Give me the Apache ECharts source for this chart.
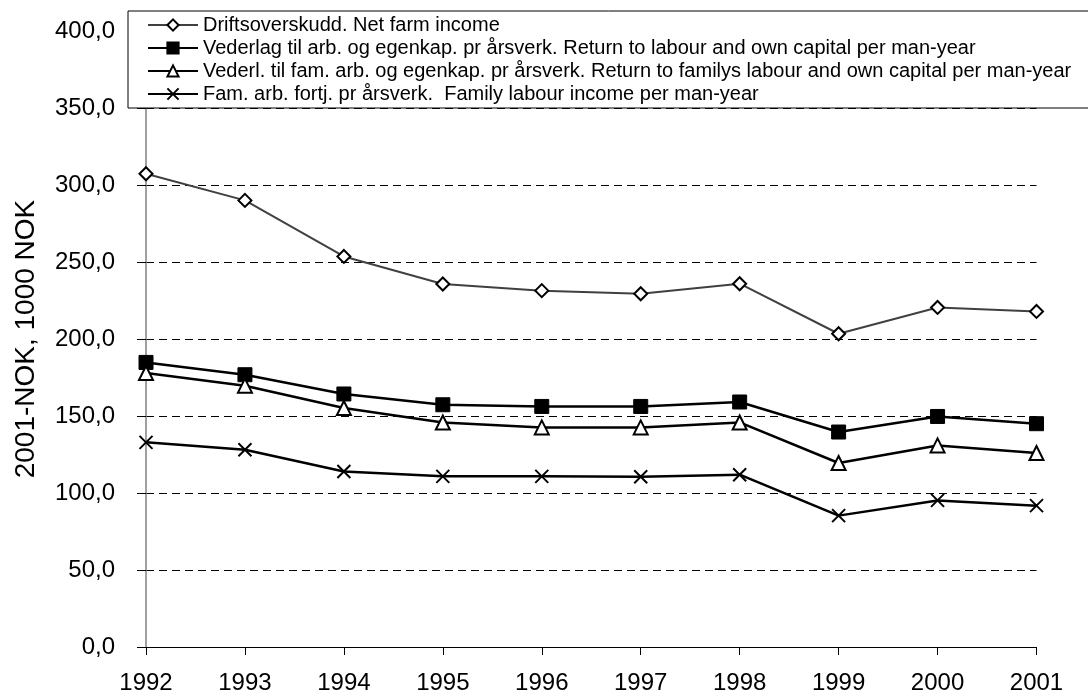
<!DOCTYPE html>
<html>
<head>
<meta charset="utf-8">
<script src="https://cdn.jsdelivr.net/npm/echarts@6/dist/echarts.min.js"></script>
<style>html,body{margin:0;padding:0;background:#fff;}#c{width:1088px;height:696px;}</style>
</head>
<body>
<div id="c"></div>
<script>
var years = ['1992','1993','1994','1995','1996','1997','1998','1999','2000','2001'];
var netFarmIncome = [307.3, 290.0, 253.6, 235.7, 231.4, 229.4, 235.9, 203.4, 220.5, 217.9];
var returnLabourCapital = [184.8, 176.8, 164.3, 157.3, 156.2, 156.2, 159.1, 139.6, 149.7, 145.0];
var returnFamilyLabourCapital = [177.9, 169.7, 155.2, 145.8, 142.6, 142.6, 145.8, 119.5, 130.9, 126.0];
var familyLabourIncome = [132.9, 128.1, 114.0, 110.8, 110.8, 110.6, 111.9, 85.3, 95.2, 91.8];
var seriesNames = [
  'Driftsoverskudd. Net farm income',
  'Vederlag til arb. og egenkap. pr årsverk. Return to labour and own capital per man-year',
  'Vederl. til fam. arb. og egenkap. pr årsverk. Return to familys labour and own capital per man-year',
  'Fam. arb. fortj. pr årsverk.  Family labour income per man-year'
];
var yTicks = {min: 0, max: 400, interval: 50};

var chart = echarts.init(document.getElementById('c'));
var font = 'Liberation Sans, Arial, sans-serif';
chart.setOption({
  animation: false,
  backgroundColor: '#fff',
  grid: {left: 146, right: 51.5, top: 31, bottom: 49},
  legend: {
    orient: 'vertical',
    left: 128, top: 11,
    padding: [4, 30, 4, 19],
    itemWidth: 50, itemHeight: 14, itemGap: 3,
    backgroundColor: '#fff', borderColor: '#000', borderWidth: 1,
    textStyle: {fontFamily: font, fontSize: 20, color: '#000', lineHeight: 20},
    data: seriesNames
  },
  xAxis: {
    type: 'category', data: years, boundaryGap: false,
    axisLine: {lineStyle: {color: '#000', width: 1}},
    axisTick: {length: 8, lineStyle: {color: '#000'}},
    axisLabel: {fontFamily: font, fontSize: 24, color: '#000', margin: 24}
  },
  yAxis: {
    type: 'value', min: yTicks.min, max: yTicks.max, interval: yTicks.interval,
    name: '2001-NOK, 1000 NOK', nameLocation: 'middle', nameRotate: 90, nameGap: 106,
    nameTextStyle: {fontFamily: font, fontSize: 28, color: '#000'},
    axisLine: {show: true, lineStyle: {color: '#808080', width: 1.5}},
    axisTick: {show: true, length: 9, lineStyle: {color: '#000'}},
    axisLabel: {fontFamily: font, fontSize: 24, color: '#000', margin: 31,
      formatter: function (v) { return v.toFixed(1).replace('.', ','); }},
    splitLine: {show: true, lineStyle: {color: '#000', width: 1, type: [8, 5]}}
  },
  series: [
    {name: seriesNames[0], type: 'line', data: netFarmIncome,
      symbol: 'diamond', symbolSize: 13, showAllSymbol: true,
      lineStyle: {color: '#404040', width: 2},
      itemStyle: {color: '#fff', borderColor: '#000', borderWidth: 2}},
    {name: seriesNames[1], type: 'line', data: returnLabourCapital,
      symbol: 'rect', symbolSize: 14,
      lineStyle: {color: '#000', width: 2.5},
      itemStyle: {color: '#000', borderColor: '#000', borderWidth: 1}},
    {name: seriesNames[2], type: 'line', data: returnFamilyLabourCapital,
      symbol: 'triangle', symbolSize: 14,
      lineStyle: {color: '#000', width: 2.5},
      itemStyle: {color: '#fff', borderColor: '#000', borderWidth: 2}},
    {name: seriesNames[3], type: 'line', data: familyLabourIncome,
      symbol: 'path://M0,0L10,10M10,0L0,10', symbolSize: 13,
      lineStyle: {color: '#000', width: 2.5},
      itemStyle: {color: 'none', borderColor: '#000', borderWidth: 2}}
  ]
});
</script>
</body>
</html>
